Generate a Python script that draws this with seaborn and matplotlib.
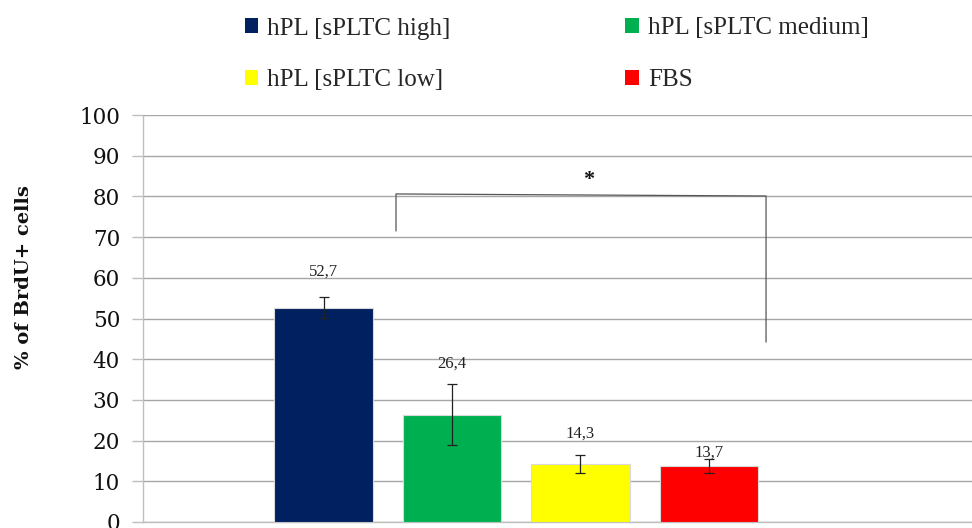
import matplotlib
matplotlib.use("Agg")
import matplotlib.pyplot as plt
from matplotlib.patches import Patch
import seaborn as sns
import pandas as pd

# Proliferation data: mean % of BrdU+ cells with error (SD)
groups = ["hPL [sPLTC high]", "hPL [sPLTC medium]", "hPL [sPLTC low]", "FBS"]
means = [52.7, 26.4, 14.3, 13.7]
errors = [2.5, 7.4, 2.2, 1.7]
label_texts = ["52,7", "26,4", "14,3", "13,7"]
label_offsets = [8.7, 12.6, 7.4, 3.4]
colors = ["#002060", "#00B050", "#FFFF00", "#FF0000"]
yticks = [0, 10, 20, 30, 40, 50, 60, 70, 80, 90, 100]

sns.set_theme(style="white")
plt.rcParams["font.family"] = ["Liberation Serif", "DejaVu Serif"]

df = pd.DataFrame({"group": groups, "value": means})

fig = plt.figure(figsize=(9.72, 5.28), dpi=100)
ax = fig.add_axes([143 / 972, 1 - 522 / 528, (972 - 143) / 972, (522 - 115) / 528])

sns.barplot(data=df, x="group", y="value", hue="group", palette=colors,
            order=groups, hue_order=groups, dodge=False, legend=False,
            saturation=1, width=0.765, edgecolor="#d9d9d9", linewidth=0.8,
            ax=ax, zorder=3)

xs = list(range(len(groups)))
ax.errorbar(xs, means, yerr=errors, fmt="none", ecolor="#222222",
            elinewidth=0.9, capsize=3.5, capthick=0.9, zorder=4)

for x, m, t, off in zip(xs, means, label_texts, label_offsets):
    ax.text(x, m + off, t, ha="center", va="center", fontsize=12,
            color="#222222", zorder=5)

# Significance bracket between high and FBS groups
bx0, bx1 = 0.564, 3.444
ax.plot([bx0, bx0, bx1, bx1], [71.5, 80.6, 80.1, 44.2], color="#555555",
        linewidth=0.9, zorder=5)
ax.text(2.066, 84.0, "*", ha="center", va="center", fontsize=16,
        fontweight="bold", color="#111111")

ax.set_xlim(-1.405, 5.047)
ax.set_ylim(0, 100)
ax.set_yticks(yticks)
ax.set_yticklabels([str(v) for v in yticks], fontsize=15.5, color="#111111",
                   family=["DejaVu Serif"])
ax.set_xticks([])
ax.set_xlabel("")
ax.set_ylabel("% of BrdU+ cells", fontsize=14, fontweight="bold",
              color="#111111", family=["DejaVu Serif"])
ax.yaxis.set_label_coords((33 - 143) / 829, (522 - 277) / 407)
ax.yaxis.grid(True, color="#a6a6a6", linewidth=1.0, zorder=0)
ax.set_axisbelow(True)
ax.tick_params(axis="y", length=8, width=1.0, color="#bfbfbf", pad=8.5,
               left=True)
for side in ["top", "right"]:
    ax.spines[side].set_visible(False)
ax.spines["left"].set_color("#bfbfbf")
ax.spines["bottom"].set_color("#bfbfbf")
ax.spines["left"].set_linewidth(1.0)
ax.spines["bottom"].set_linewidth(1.0)

# Legend laid out row by row: high, medium / low, FBS
order = [0, 2, 1, 3]
handles = [Patch(facecolor=colors[i], edgecolor="none") for i in order]
labels = [groups[i] for i in order]
fig.legend(handles, labels, loc="upper left",
           bbox_to_anchor=(222 / 972, 1 + 5 / 528),
           ncol=2, frameon=False, fontsize=18, handlelength=0.55,
           handleheight=0.55, handletextpad=0.35, labelspacing=1.2,
           columnspacing=7.0)

fig.savefig("out.png", dpi=100)
